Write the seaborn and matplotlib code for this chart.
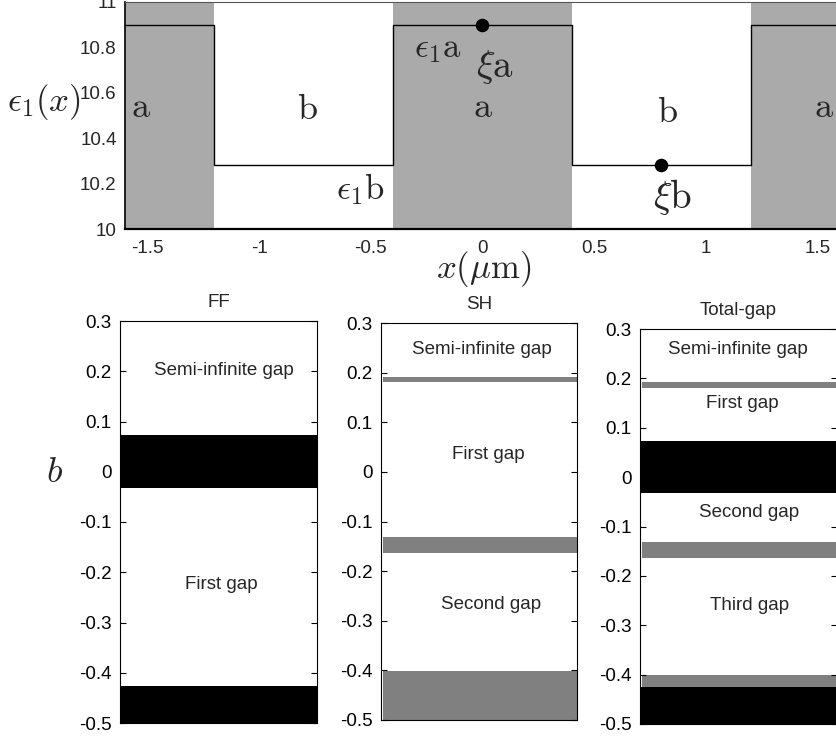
import numpy as np
import pandas as pd
import matplotlib
matplotlib.use("Agg")
import matplotlib.pyplot as plt
import seaborn as sns

# ---- unit cell of the layered structure (x in micrometres) ----
layer_edges = [-1.6, -1.2, -0.4, 0.4, 1.2, 1.6]
layer_kind = ["a", "b", "a", "b", "a"]
eps_a = 10.9
eps_b = 10.28
xi_x = [0.0, 0.8]
xi_eps = [10.9, 10.28]

x_ticks = [-1.5, -1.0, -0.5, 0.0, 0.5, 1.0, 1.5]
x_tick_labels = ["-1.5", "-1", "-0.5", "0", "0.5", "1", "1.5"]
eps_ticks = [10.0, 10.2, 10.4, 10.6, 10.8, 11.0]
eps_tick_labels = ["10", "10.2", "10.4", "10.6", "10.8", "11"]

# ---- band structure: allowed bands (lower, upper) in b ----
ff_bands_lo = [-0.032, -0.5]
ff_bands_hi = [0.073, -0.426]
sh_bands_lo = [0.181, -0.164, -0.5]
sh_bands_hi = [0.192, -0.131, -0.401]

b_ticks = [0.3, 0.2, 0.1, 0.0, -0.1, -0.2, -0.3, -0.4, -0.5]
b_tick_labels = ["0.3", "0.2", "0.1", "0", "-0.1", "-0.2", "-0.3", "-0.4", "-0.5"]

ff_gap_names = ["Semi-infinite gap", "First gap"]
ff_gap_b = [0.202, -0.225]
sh_gap_names = ["Semi-infinite gap", "First gap", "Second gap"]
sh_gap_b = [0.246, 0.036, -0.267]
tot_gap_names = ["Semi-infinite gap", "First gap", "Second gap", "Third gap"]
tot_gap_b = [0.259, 0.15, -0.072, -0.259]

sns.set_style("ticks")
plt.rcParams["font.family"] = ["Liberation Sans", "DejaVu Sans"]
plt.rcParams["mathtext.fontset"] = "cm"
plt.rcParams["axes.unicode_minus"] = False

GRAY_A = "#aaaaaa"
GRAY_SH = "#808080"
TICK_FS = 13.5

fig = plt.figure(figsize=(8.36, 7.37), dpi=100)

# ---------------- permittivity profile ----------------
ax = fig.add_axes([125 / 836, 1 - 229 / 737, 715 / 836, 227 / 737])
for lo, hi, kind in zip(layer_edges[:-1], layer_edges[1:], layer_kind):
    if kind == "a":
        ax.axvspan(lo, hi, color=GRAY_A, lw=0, zorder=0)

eps_vals = [eps_a if k == "a" else eps_b for k in layer_kind]
profile = pd.DataFrame({"x": layer_edges, "eps": eps_vals + [eps_vals[-1]]})
sns.lineplot(data=profile, x="x", y="eps", ax=ax, color="black", lw=1.0,
             drawstyle="steps-post", zorder=2)
sns.scatterplot(x=xi_x, y=xi_eps, ax=ax, color="black", s=95, zorder=3,
                edgecolor="black", linewidth=0)

ax.set_xlim(layer_edges[0], layer_edges[-1])
ax.set_ylim(10, 11)
ax.set_xticks(x_ticks)
ax.set_xticklabels(x_tick_labels)
ax.set_yticks(eps_ticks)
ax.set_yticklabels(eps_tick_labels)
ax.tick_params(axis="both", length=0, labelsize=TICK_FS)
ax.tick_params(axis="x", pad=8)
ax.tick_params(axis="y", pad=6)
for s in ax.spines.values():
    s.set_color("black")
ax.spines["top"].set_color("#555555")
ax.spines["bottom"].set_linewidth(1.6)
ax.spines["left"].set_linewidth(1.2)

region_x = [-1.53, -0.784, 0.0, 0.828, 1.53]
region_y = [10.493, 10.485, 10.493, 10.471, 10.493]
for xx, yy, kind in zip(region_x, region_y, layer_kind):
    ax.text(xx, yy, r"$\mathrm{%s}$" % kind, ha="center", va="baseline", fontsize=26)

ax.text(-0.2, 10.759, r"$\epsilon_1\mathrm{a}$", ha="center", va="baseline", fontsize=25)
ax.text(0.055, 10.67, r"$\xi\mathrm{a}$", ha="center", va="baseline", fontsize=28)
ax.text(-0.549, 10.132, r"$\epsilon_1\mathrm{b}$", ha="center", va="baseline", fontsize=25)
ax.text(0.853, 10.092, r"$\xi\mathrm{b}$", ha="center", va="baseline", fontsize=28)

ax.set_xlabel(r"$x(\mu\mathrm{m})$", fontsize=25)
ax.xaxis.set_label_coords(0.502, -0.175)
ax.xaxis.label.set_va("center")
ax.set_ylabel(r"$\epsilon_1(x)$", fontsize=25, rotation=0)
ax.yaxis.set_label_coords(-0.114, 0.56)
ax.yaxis.label.set_va("center")
ax.yaxis.label.set_ha("center")


# ---------------- band diagrams ----------------
def band_panel(rect, title, gray_bands, black_bands, names, ys, xs):
    bx = fig.add_axes(rect)
    for lo, hi in gray_bands:
        bx.axhspan(lo, hi, xmin=0.01, xmax=1.0, color=GRAY_SH, lw=0, zorder=0)
    for lo, hi in black_bands:
        bx.axhspan(lo, hi, color="black", lw=0, zorder=1)
    bx.set_xlim(0, 1)
    bx.set_ylim(-0.5, 0.3)
    bx.set_xticks([])
    bx.set_yticks(b_ticks)
    bx.set_yticklabels(b_tick_labels)
    bx.tick_params(axis="y", direction="in", length=4, width=0.8, labelsize=TICK_FS,
                   pad=6, left=True, right=True, colors="black")
    for s in bx.spines.values():
        s.set_color("black")
        s.set_linewidth(0.8)
    for name, yy, xx in zip(names, ys, xs):
        bx.text(xx, yy, name, ha="center", va="center", fontsize=TICK_FS,
                transform=bx.get_yaxis_transform())
    bx.set_title(title, fontsize=TICK_FS, pad=10)
    return bx


ff = list(zip(ff_bands_lo, ff_bands_hi))
sh = list(zip(sh_bands_lo, sh_bands_hi))

ax_ff = band_panel([120 / 836, 1 - 723 / 737, 197 / 836, 402 / 737], "FF",
                   [], ff, ff_gap_names, ff_gap_b, [0.528, 0.513])
ax_sh = band_panel([381 / 836, 1 - 720 / 737, 196 / 836, 397 / 737], "SH",
                   sh, [], sh_gap_names, sh_gap_b, [0.514, 0.546, 0.561])
ax_tot = band_panel([640 / 836, 1 - 724 / 737, 197 / 836, 395 / 737], "Total-gap",
                    sh, ff, tot_gap_names, tot_gap_b, [0.497, 0.52, 0.553, 0.558])

fig.text(55 / 836, 1 - 472 / 737, r"$b$", ha="center", va="center", fontsize=26)

fig.savefig("out.png", dpi=100)
